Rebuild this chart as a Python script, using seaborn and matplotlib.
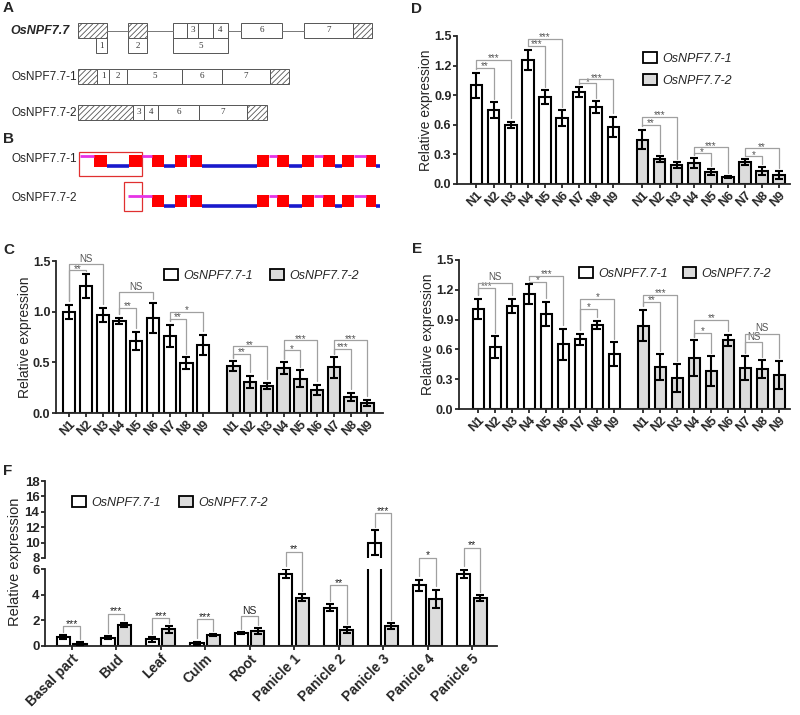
import numpy as np
import pandas as pd
import seaborn as sns
import matplotlib.pyplot as plt
from matplotlib.patches import Rectangle, Patch

sns.set_style("ticks")
plt.rcParams['font.family'] = ['Liberation Sans', 'DejaVu Sans']
plt.rcParams['hatch.linewidth'] = 0.6
plt.rcParams['hatch.color'] = '#444444'

isoforms = ['OsNPF7.7-1', 'OsNPF7.7-2']
n_labels = ['N1', 'N2', 'N3', 'N4', 'N5', 'N6', 'N7', 'N8', 'N9']
bar_colors = ['white', '#dcdcdc']

# panel C
c_iso1 = [1.00, 1.25, 0.97, 0.91, 0.71, 0.94, 0.76, 0.49, 0.67]
c_iso1_err = [0.07, 0.12, 0.07, 0.03, 0.09, 0.15, 0.11, 0.06, 0.10]
c_iso2 = [0.46, 0.31, 0.27, 0.44, 0.34, 0.23, 0.45, 0.16, 0.10]
c_iso2_err = [0.05, 0.06, 0.03, 0.06, 0.08, 0.05, 0.10, 0.04, 0.03]
c_sig = [(0, 1, 1.41, '**'), (0, 2, 1.47, 'NS'), (3, 4, 1.04, '**'), (3, 5, 1.19, 'NS'),
         (6, 7, 0.93, '**'), (6, 8, 1.00, '*'), (9, 10, 0.585, '**'), (9, 11, 0.66, '**'),
         (12, 13, 0.62, '*'), (12, 14, 0.72, '***'), (15, 16, 0.635, '***'), (15, 17, 0.72, '***')]

# panel D
d_iso1 = [1.00, 0.75, 0.60, 1.26, 0.88, 0.67, 0.93, 0.78, 0.58]
d_iso1_err = [0.13, 0.08, 0.03, 0.10, 0.07, 0.08, 0.05, 0.06, 0.10]
d_iso2 = [0.45, 0.25, 0.19, 0.21, 0.12, 0.07, 0.22, 0.13, 0.09]
d_iso2_err = [0.10, 0.03, 0.03, 0.05, 0.03, 0.01, 0.03, 0.04, 0.04]
d_sig = [(0, 1, 1.18, '**'), (0, 2, 1.26, '***'), (3, 4, 1.40, '***'), (3, 5, 1.47, '***'),
         (6, 7, 1.02, '*'), (6, 8, 1.06, '***'), (9, 10, 0.60, '**'), (9, 11, 0.68, '***'),
         (12, 13, 0.31, '*'), (12, 14, 0.37, '***'), (15, 16, 0.28, '*'), (15, 17, 0.36, '**')]

# panel E
e_iso1 = [1.01, 0.62, 1.04, 1.16, 0.96, 0.65, 0.70, 0.85, 0.55]
e_iso1_err = [0.10, 0.11, 0.07, 0.10, 0.12, 0.16, 0.06, 0.04, 0.12]
e_iso2 = [0.84, 0.42, 0.31, 0.51, 0.38, 0.69, 0.41, 0.40, 0.34]
e_iso2_err = [0.16, 0.13, 0.14, 0.18, 0.15, 0.06, 0.12, 0.09, 0.14]
e_sig = [(0, 1, 1.22, '***'), (0, 2, 1.27, 'NS'), (3, 4, 1.28, '*'), (3, 5, 1.34, '***'),
         (6, 7, 1.01, '*'), (6, 8, 1.11, '*'), (9, 10, 1.08, '**'), (9, 11, 1.15, '***'),
         (12, 13, 0.77, '*'), (12, 14, 0.90, '**'), (15, 16, 0.67, 'NS'), (15, 17, 0.76, 'NS')]

# panel F
tissues = ['Basal part', 'Bud', 'Leaf', 'Culm', 'Root',
           'Panicle 1', 'Panicle 2', 'Panicle 3', 'Panicle 4', 'Panicle 5']
f_iso1 = [0.68, 0.65, 0.52, 0.20, 1.00, 5.64, 3.00, 10.0, 4.73, 5.64]
f_iso1_err = [0.15, 0.12, 0.18, 0.15, 0.07, 0.33, 0.25, 1.6, 0.45, 0.32]
f_iso2 = [0.18, 1.63, 1.29, 0.85, 1.16, 3.75, 1.24, 1.55, 3.70, 3.75]
f_iso2_err = [0.12, 0.14, 0.25, 0.07, 0.22, 0.28, 0.22, 0.26, 0.70, 0.22]
f_sig_h = [1.55, 2.53, 2.15, 2.07, 2.33, 8.8, 4.73, 13.8, 8.0, 9.35]
f_sig_lab = ['***', '***', '***', '***', 'NS', '**', '**', '***', '*', '**']

# gene structure (panel A), pixel extents
gene_hatch = [(78, 107), (128, 147), (353, 372)]
gene_boxes = [(173, 187, ''), (187, 198, '3'), (198, 213, ''), (213, 228, '4'),
              (241, 282, '6'), (304, 353, '7')]
gene_introns = [(107, 128), (147, 173), (228, 241), (282, 304)]
gene_sub = [(96, 107, '1'), (128, 147, '2'), (173, 228, '5')]
tx1_hatch = [(78, 97), (270, 289)]
tx1_boxes = [(97, 109, '1'), (109, 127, '2'), (127, 182, '5'), (182, 222, '6'), (222, 270, '7')]
tx2_hatch = [(78, 133), (247, 267)]
tx2_boxes = [(133, 144, '3'), (144, 158, '4'), (158, 199, '6'), (199, 247, '7')]

# exon/intron model (panel B)
model_common = [('r', 152, 164), ('b', 164, 175), ('r', 175, 187), ('m', 187, 190),
                ('r', 190, 202), ('b', 202, 257), ('r', 257, 269), ('m', 269, 277),
                ('r', 277, 289), ('b', 289, 302), ('r', 302, 314), ('m', 314, 323),
                ('r', 323, 335), ('b', 335, 342), ('r', 342, 354), ('m', 354, 366),
                ('r', 366, 376), ('b', 376, 380)]
model1_head = [('m', 80, 94), ('r', 94, 107), ('b', 107, 129), ('r', 129, 142), ('m', 142, 152)]
model2_head = [('m', 128, 152)]

fig = plt.figure(figsize=(8, 7.15), dpi=100)


def px_axes(l, t, r, b):
    return fig.add_axes([l / 800, 1 - b / 715, (r - l) / 800, (b - t) / 715])


ov = fig.add_axes([0, 0, 1, 1], zorder=-1)
ov.set_xlim(0, 800)
ov.set_ylim(715, 0)
ov.axis('off')

for lab, x, y in [('A', 3, 8), ('B', 3, 139), ('C', 3, 250), ('D', 411, 9), ('E', 412, 249), ('F', 3, 471)]:
    ov.text(x, y, lab, fontsize=11, fontweight='bold', va='center', ha='left')


def box(x0, x1, y0, y1, label='', hatch=None):
    ov.add_patch(Rectangle((x0, y0), x1 - x0, y1 - y0, facecolor='white', edgecolor='#555555',
                           lw=0.7, hatch=hatch))
    if label:
        ov.text((x0 + x1) / 2, (y0 + y1) / 2, label, ha='center', va='center', fontsize=6.5,
                family='Liberation Serif', color='#333333')


# panel A
ov.text(10, 31, 'OsNPF7.7', fontsize=9, fontweight='bold', style='italic', va='center')
for x0, x1 in gene_introns:
    ov.plot([x0, x1], [31, 31], color='#777777', lw=0.7)
for x0, x1 in gene_hatch:
    box(x0, x1, 23, 38, hatch='//////')
for x0, x1, l in gene_boxes:
    box(x0, x1, 23, 38, l)
for x0, x1, l in gene_sub:
    box(x0, x1, 38, 53, l)
ov.text(12, 77, 'OsNPF7.7-1', fontsize=8.5, va='center')
for x0, x1 in tx1_hatch:
    box(x0, x1, 69, 84, hatch='//////')
for x0, x1, l in tx1_boxes:
    box(x0, x1, 69, 84, l)
ov.text(12, 113, 'OsNPF7.7-2', fontsize=8.5, va='center')
for x0, x1 in tx2_hatch:
    box(x0, x1, 105, 120, hatch='//////')
for x0, x1, l in tx2_boxes:
    box(x0, x1, 105, 120, l)

# panel B


def draw_model(parts, ytop):
    for kind, x0, x1 in parts:
        if kind == 'r':
            ov.add_patch(Rectangle((x0, ytop), x1 - x0, 12, facecolor='#ff0000', edgecolor='none'))
        elif kind == 'm':
            ov.plot([x0, x1], [ytop + 1, ytop + 1], color='#e633e6', lw=2, solid_capstyle='butt')
        else:
            ov.plot([x0, x1], [ytop + 11, ytop + 11], color='#1a1acc', lw=2.6, solid_capstyle='butt')


ov.text(12, 159, 'OsNPF7.7-1', fontsize=8.5, va='center')
draw_model(model1_head + model_common, 155)
ov.add_patch(Rectangle((79, 152), 63, 24, facecolor='none', edgecolor='#e03030', lw=0.9))
ov.text(12, 198, 'OsNPF7.7-2', fontsize=8.5, va='center')
draw_model(model2_head + model_common, 195)
ov.add_patch(Rectangle((124, 182), 18, 29, facecolor='none', edgecolor='#e03030', lw=0.9))

legend_handles = [Patch(facecolor=c, edgecolor='black', lw=1.3) for c in bar_colors]


def style_axes(ax, tick_fs):
    sns.despine(ax=ax)
    for s in ('left', 'bottom'):
        ax.spines[s].set_linewidth(1.3)
    ax.tick_params(direction='out', length=3, width=1.3, labelsize=tick_fs, pad=1)
    for t in ax.get_yticklabels() + ax.get_xticklabels():
        t.set_fontweight('bold')


def node_panel(box_px, v1, e1, v2, e2, sig, offset, xlim, width, yticks, leg):
    ax = px_axes(*box_px)
    pos1 = np.arange(9, dtype=float)
    pos2 = pos1 + offset
    for pos, vals, col in [(pos1, v1, bar_colors[0]), (pos2, v2, bar_colors[1])]:
        sns.barplot(x=pos, y=vals, native_scale=True, color=col, width=width, edgecolor='black',
                    linewidth=1.5, errorbar=None, ax=ax, saturation=1)
    pos = np.concatenate([pos1, pos2])
    vals = np.array(v1 + v2)
    errs = np.array(e1 + e2)
    ax.errorbar(pos, vals, yerr=errs, fmt='none', ecolor='black', elinewidth=1.5, capsize=3,
                capthick=1.5, zorder=5)
    tops = vals + errs
    pad = 0.035
    for i, j, h, lab in sig:
        yi = min(tops[i] + pad, h)
        yj = min(tops[j] + pad, h)
        ax.plot([pos[i], pos[i], pos[j], pos[j]], [yi, h, h, yj], color='#a0a0a0', lw=0.9,
                clip_on=False, zorder=3)
        if lab == 'NS':
            ax.text((pos[i] + pos[j]) / 2, h + 0.005, lab, ha='center', va='bottom', fontsize=7,
                    color='#555555')
        else:
            ax.text((pos[i] + pos[j]) / 2, h - 0.035, lab, ha='center', va='bottom', fontsize=7,
                    color='#555555')
    ax.set_xlim(*xlim)
    ax.set_ylim(0, 1.5)
    ax.set_yticks(yticks)
    ax.set_yticklabels([f'{v:.1f}' for v in yticks])
    ax.set_xticks(pos)
    ax.set_xticklabels(n_labels + n_labels, rotation=45, ha='right', rotation_mode='anchor')
    ax.set_xlabel('')
    ax.set_ylabel('Relative expression', fontsize=10, labelpad=1)
    style_axes(ax, 9)
    ncol, anchor, lsp, csp = leg
    ax.legend(legend_handles, isoforms, loc='upper left', bbox_to_anchor=anchor,
              bbox_transform=fig.transFigure, ncol=ncol, frameon=False, borderpad=0,
              handlelength=1.1, handleheight=0.9, handletextpad=0.4, labelspacing=lsp,
              columnspacing=csp, prop={'style': 'italic', 'size': 9})
    return ax


node_panel((56, 261, 383, 413), c_iso1, c_iso1_err, c_iso2, c_iso2_err, c_sig, 9.8,
           (-0.79, 18.73), 0.74, [0, 0.5, 1.0, 1.5],
           (2, (158 / 800, 1 - 263 / 715), 0.5, 1.4))
node_panel((457, 36, 790, 184), d_iso1, d_iso1_err, d_iso2, d_iso2_err, d_sig, 9.7,
           (-1.14, 18.33), 0.68, [0, 0.3, 0.6, 0.9, 1.2, 1.5],
           (1, (637 / 800, 1 - 46 / 715), 0.75, 1.5))
node_panel((459, 260, 790, 409), e_iso1, e_iso1_err, e_iso2, e_iso2_err, e_sig, 9.7,
           (-1.14, 18.33), 0.68, [0, 0.3, 0.6, 0.9, 1.2, 1.5],
           (2, (573 / 800, 1 - 261 / 715), 0.5, 1.2))

# panel F: broken y axis
f_df = pd.DataFrame({
    'tissue': tissues * 2,
    'value': f_iso1 + f_iso2,
    'isoform': [isoforms[0]] * len(tissues) + [isoforms[1]] * len(tissues),
})
axT = px_axes(45, 481, 497, 558)
axB = px_axes(45, 569, 497, 646)
axT.patch.set_visible(False)
pal = dict(zip(isoforms, bar_colors))
centers = None
for ax in (axT, axB):
    sns.barplot(data=f_df, x='tissue', y='value', hue='isoform', palette=pal, width=0.74, gap=0.2,
                edgecolor='black', linewidth=1.5, errorbar=None, legend=False, ax=ax, saturation=1)
    bars = [p for p in ax.patches if p.get_height() > 0]
    xs = np.array([p.get_x() + p.get_width() / 2 for p in bars])
    centers = xs
    ax.errorbar(xs, np.array(f_iso1 + f_iso2), yerr=np.array(f_iso1_err + f_iso2_err), fmt='none',
                ecolor='black', elinewidth=1.5, capsize=3, capthick=1.5, zorder=5)
    ax.set_xlim(-0.6, 9.56)
    ax.set_xlabel('')
    ax.set_ylabel('')

axT.set_ylim(8, 18)
axT.set_yticks([8, 10, 12, 14, 16, 18])
axB.set_ylim(0, 6)
axB.set_yticks([0, 2, 4, 6])
axB.set_xticks(range(len(tissues)))
axB.set_xticklabels(tissues, rotation=45, ha='right', rotation_mode='anchor')
style_axes(axT, 9.5)
style_axes(axB, 9.5)
axT.spines['bottom'].set_visible(False)
axT.tick_params(axis='x', bottom=False, labelbottom=False)
axB.tick_params(axis='x', labelsize=10)
fig.text(15 / 800, 1 - 562 / 715, 'Relative expression', rotation=90, fontsize=10.5,
         ha='center', va='center')
axT.legend(legend_handles, isoforms, loc='upper left', bbox_to_anchor=(66 / 800, 1 - 490 / 715),
           bbox_transform=fig.transFigure, ncol=2, frameon=False, borderpad=0, handlelength=1.1,
           handleheight=0.9, handletextpad=0.4, columnspacing=1.5, prop={'style': 'italic', 'size': 9})


def to_low(v):
    if v <= 6:
        return v
    disp = axT.transData.transform((0, v))
    return axB.transData.inverted().transform(disp)[1]


n = len(tissues)
for k in range(n):
    xa, xb = centers[k], centers[k + n]
    h = to_low(f_sig_h[k])
    ya = min(to_low(f_iso1[k] + f_iso1_err[k]) + 0.25, h)
    yb = min(to_low(f_iso2[k] + f_iso2_err[k]) + 0.25, h)
    axB.plot([xa, xa, xb, xb], [ya, h, h, yb], color='#a0a0a0', lw=0.9, clip_on=False, zorder=3)
    lab = f_sig_lab[k]
    dy = 0.02 if lab == 'NS' else -0.2
    axB.text((xa + xb) / 2, h + dy, lab, ha='center', va='bottom', fontsize=7.5,
             color='#222222', clip_on=False)

fig.savefig('out.png', dpi=100)
